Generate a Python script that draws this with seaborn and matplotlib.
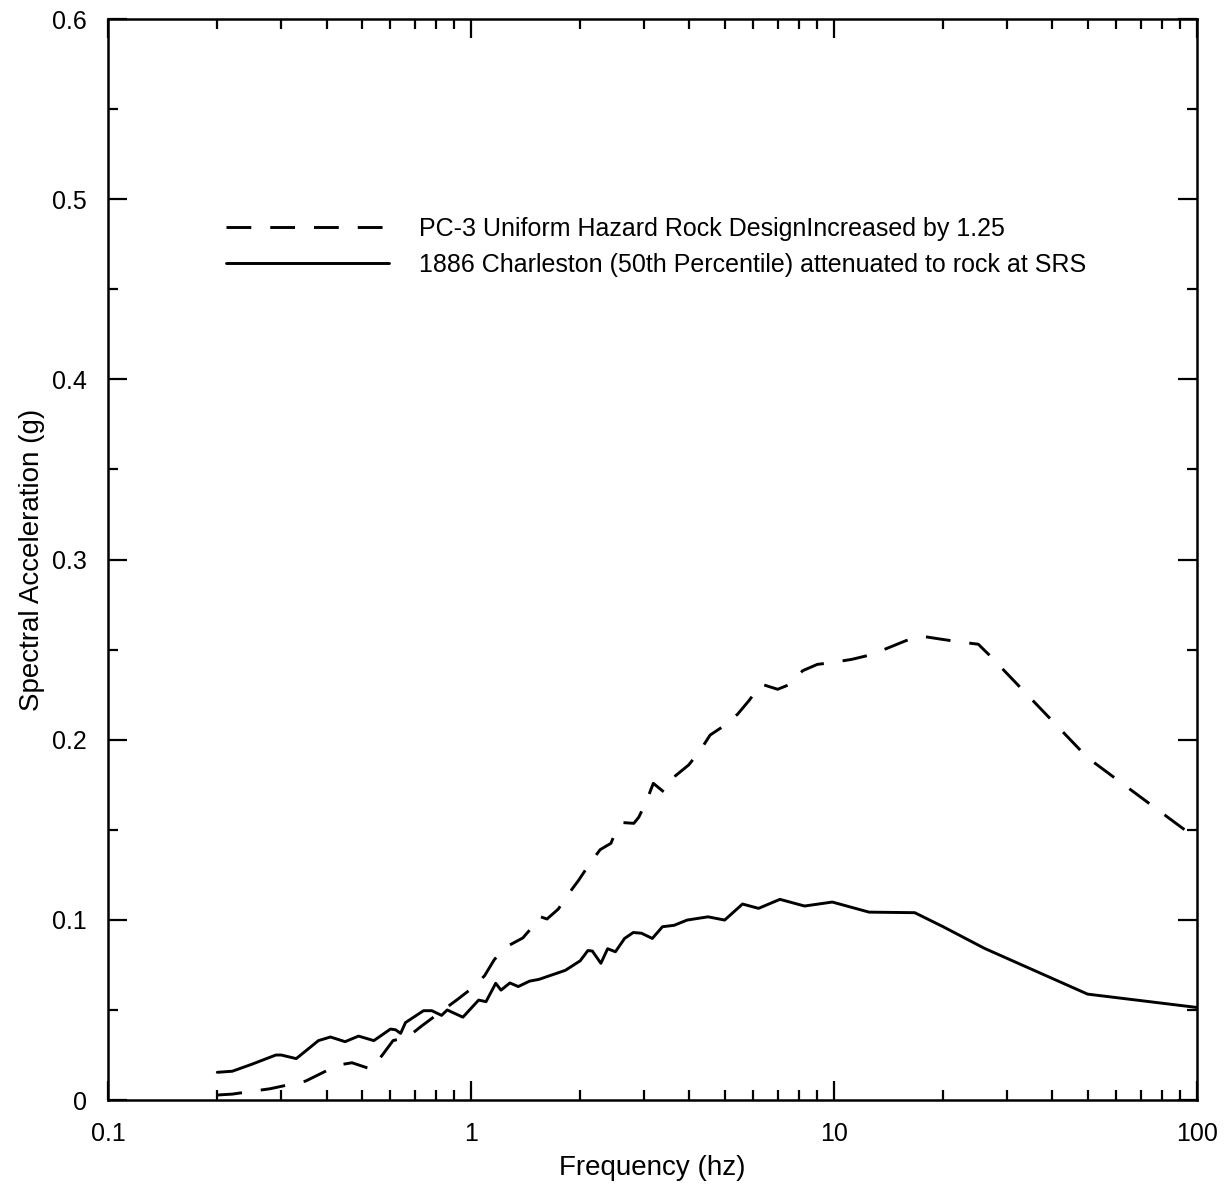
import numpy as np
import pandas as pd
import matplotlib
matplotlib.use("Agg")
import matplotlib.pyplot as plt
import seaborn as sns
from matplotlib.ticker import LogLocator, FixedLocator, FixedFormatter

# PC-3 uniform hazard rock design (x1.25), dashed
uhs_freq = [0.2, 0.22, 0.28, 0.35, 0.43, 0.47, 0.53, 0.57, 0.61, 0.67, 0.73,
            0.92, 1.02, 1.09, 1.16, 1.25, 1.39, 1.49, 1.54, 1.62, 1.74, 1.85,
            1.98, 2.12, 2.27, 2.43, 2.47, 2.62, 2.81, 2.9, 3.04, 3.18, 3.4,
            3.66, 3.98, 4.28, 4.56, 4.97, 5.43, 5.85, 6.3, 7.0, 7.6, 8.2, 9.0,
            10.0, 11.2, 12.8, 14.0, 15.8, 17.4, 19.6, 22.0, 25.0, 26.8, 50, 100]
uhs_sa = [0.0028, 0.0033, 0.0063, 0.0105, 0.0194, 0.0207, 0.0172, 0.025, 0.033,
          0.035, 0.041, 0.056, 0.063, 0.069, 0.078, 0.085, 0.090, 0.097, 0.102,
          0.1005, 0.106, 0.114, 0.122, 0.131, 0.139, 0.1425, 0.146, 0.154,
          0.1536, 0.157, 0.1656, 0.1758, 0.171, 0.180, 0.186, 0.194, 0.2026,
          0.2076, 0.2142, 0.222, 0.2309, 0.228, 0.2309, 0.2383, 0.2418, 0.243,
          0.2446, 0.2474, 0.2507, 0.255, 0.2575, 0.2559, 0.2544, 0.253, 0.247,
          0.19, 0.145]

# 1886 Charleston (50th percentile) attenuated to rock, solid
chs_freq = [0.2, 0.22, 0.25, 0.29, 0.30, 0.33, 0.38, 0.41, 0.45, 0.49, 0.54,
            0.60, 0.62, 0.64, 0.66, 0.74, 0.78, 0.83, 0.86, 0.95, 1.05, 1.10,
            1.17, 1.21, 1.28, 1.35, 1.45, 1.54, 1.82, 2.0, 2.1, 2.16, 2.28,
            2.38, 2.5, 2.65, 2.8, 2.95, 3.16, 3.37, 3.63, 3.94, 4.5, 5.0, 5.6,
            6.2, 7.1, 8.3, 9.9, 12.5, 16.7, 20, 26, 50, 100]
chs_sa = [0.0154, 0.016, 0.020, 0.025, 0.025, 0.023, 0.033, 0.035, 0.0324,
          0.0355, 0.033, 0.0394, 0.039, 0.037, 0.043, 0.0496, 0.0496, 0.047,
          0.050, 0.046, 0.0555, 0.0546, 0.0648, 0.061, 0.065, 0.063, 0.066,
          0.067, 0.072, 0.0773, 0.083, 0.0827, 0.0759, 0.084, 0.0823, 0.0897,
          0.093, 0.0926, 0.0897, 0.0962, 0.097, 0.0999, 0.1017, 0.0999, 0.1088,
          0.1064, 0.1114, 0.1077, 0.1099, 0.1043, 0.104, 0.0962, 0.0842,
          0.0588, 0.0514]

x_ticks = [0.1, 1, 10, 100]
x_ticklabels = ["0.1", "1", "10", "100"]
y_ticks = [0, 0.1, 0.2, 0.3, 0.4, 0.5, 0.6]
y_ticklabels = ["0", "0.1", "0.2", "0.3", "0.4", "0.5", "0.6"]
y_minor = [0.05, 0.15, 0.25, 0.35, 0.45, 0.55]

uhs_label = "PC-3 Uniform Hazard Rock DesignIncreased by 1.25"
chs_label = "1886 Charleston (50th Percentile) attenuated to rock at SRS"

sns.set_style("ticks")
plt.rcParams["font.family"] = ["Liberation Sans", "DejaVu Sans"]
plt.rcParams["text.color"] = "black"
plt.rcParams["axes.labelcolor"] = "black"
plt.rcParams["xtick.color"] = "black"
plt.rcParams["ytick.color"] = "black"
plt.rcParams["axes.edgecolor"] = "black"

df_uhs = pd.DataFrame({"freq": uhs_freq, "sa": uhs_sa})
df_chs = pd.DataFrame({"freq": chs_freq, "sa": chs_sa})

fig = plt.figure(figsize=(12.25, 11.84), dpi=100)
ax = fig.add_axes([0.0882, 0.0709, 0.8888, 0.913])

sns.lineplot(data=df_uhs, x="freq", y="sa", ax=ax, color="black", lw=2.1,
             linestyle=(0, (8.5, 6.5)), estimator=None, sort=False, label=uhs_label)
sns.lineplot(data=df_chs, x="freq", y="sa", ax=ax, color="black", lw=2.1,
             estimator=None, sort=False, label=chs_label)

ax.set_xscale("log")
ax.set_xlim(0.1, 100)
ax.set_ylim(0, 0.6)
ax.xaxis.set_major_locator(FixedLocator(x_ticks))
ax.xaxis.set_major_formatter(FixedFormatter(x_ticklabels))
ax.xaxis.set_minor_locator(LogLocator(base=10, subs=np.arange(2, 10)))
ax.yaxis.set_major_locator(FixedLocator(y_ticks))
ax.yaxis.set_major_formatter(FixedFormatter(y_ticklabels))
ax.yaxis.set_minor_locator(FixedLocator(y_minor))

ax.tick_params(which="both", direction="in", top=True, right=True,
               labelsize=18, width=1.6)
ax.tick_params(axis="x", which="major", length=14, pad=16)
ax.tick_params(axis="y", which="major", length=14, pad=15)
ax.tick_params(which="minor", length=7)
for s in ax.spines.values():
    s.set_linewidth(1.8)

ax.set_xlabel("Frequency (hz)", fontsize=20, labelpad=6)
ax.set_ylabel("Spectral Acceleration (g)", fontsize=20, labelpad=5)

leg = ax.legend(loc="upper left", bbox_to_anchor=(0.088, 0.838), frameon=False,
                fontsize=18, handlelength=6.5, handletextpad=1.2,
                labelspacing=0.5)

fig.savefig("out.png", dpi=100)
